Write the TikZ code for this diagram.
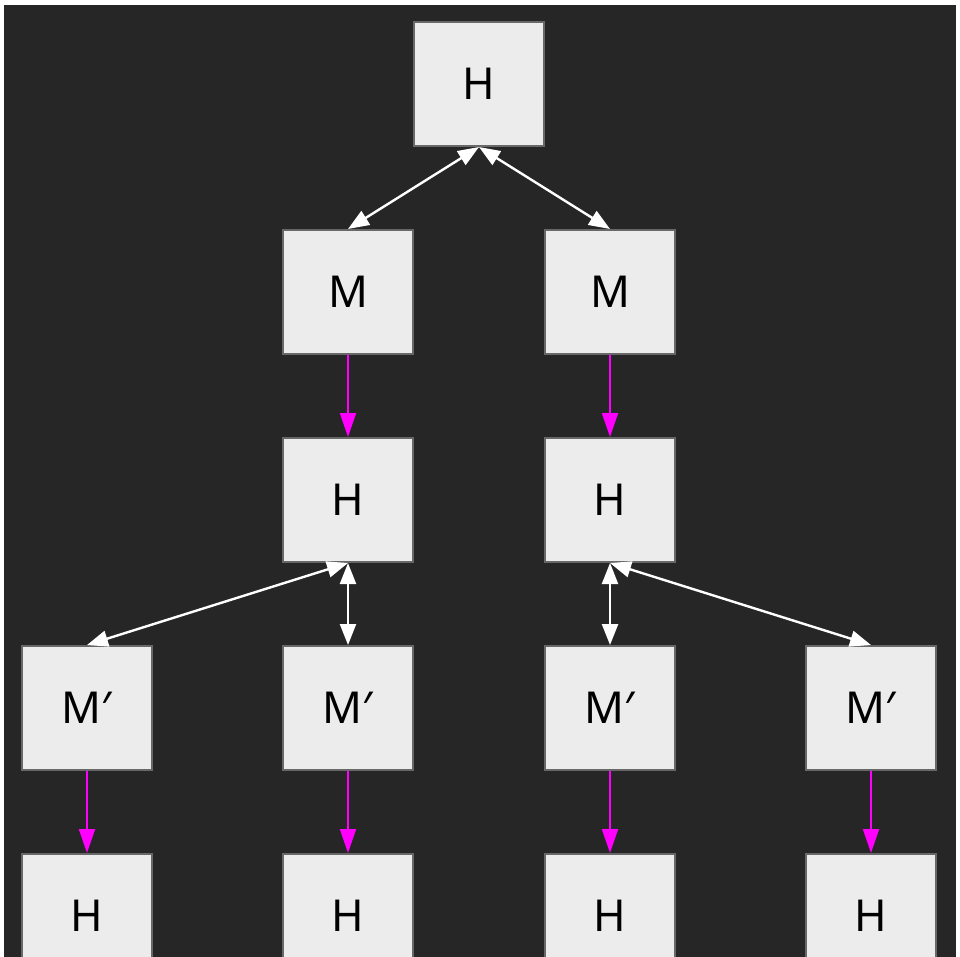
\documentclass[tikz,border=0pt]{standalone}
\usepackage{fontspec}
\setmainfont{Noto Sans}
\usetikzlibrary{arrows.meta,positioning}
\definecolor{bgDark}{HTML}{262626}
\definecolor{boxFill}{HTML}{ECECEC}
\definecolor{boxLine}{HTML}{686868}
\definecolor{linkMag}{HTML}{FF00FF}
\tikzset{
    treebox/.style={draw=boxLine, fill=boxFill, line width=2pt, minimum width=130pt,
        minimum height=124pt, inner sep=0pt, text=black, font=\fontsize{44}{50}\selectfont},
    swap/.style={white, line width=2.4pt, {Triangle[length=21pt,width=16pt]}-{Triangle[length=21pt,width=16pt]}},
    derive/.style={linkMag, line width=2pt, -{Triangle[length=24pt,width=16pt]}}
}
\begin{document}
\begin{tikzpicture}[x=1pt,y=-1pt]

    % frame
    \useasboundingbox (0,0) rectangle (960,957);
    \clip (0,0) rectangle (960,957);
    \fill[white] (0,0) rectangle (960,957);
    \fill[bgDark] (4,5) rectangle (956,970);

    % nodes
    \node[treebox] (h0) at (479,84) {H};
    \node[treebox] (m1) at (348,292) {M};
    \node[treebox] (m2) at (610,292) {M};
    \node[treebox] (h1) at (348,500) {H};
    \node[treebox] (h2) at (610,500) {H};
    \node[treebox] (p1) at (87,708) {M′};
    \node[treebox] (p2) at (348,708) {M′};
    \node[treebox] (p3) at (610,708) {M′};
    \node[treebox] (p4) at (871,708) {M′};
    \node[treebox] (g1) at (87,916) {H};
    \node[treebox] (g2) at (348,916) {H};
    \node[treebox] (g3) at (610,916) {H};
    \node[treebox] (g4) at (871,916) {H};

    % links
    \draw[swap] (h0.south) -- (m1.north);
    \draw[swap] (h0.south) -- (m2.north);
    \draw[derive] (m1.south) -- (h1.north);
    \draw[derive] (m2.south) -- (h2.north);
    \draw[swap] (h1.south) -- (p1.north);
    \draw[swap] (h1.south) -- (p2.north);
    \draw[swap] (h2.south) -- (p3.north);
    \draw[swap] (h2.south) -- (p4.north);
    \foreach \a/\b in {p1/g1,p2/g2,p3/g3,p4/g4}
        \draw[derive] (\a.south) -- (\b.north);

\end{tikzpicture}
\end{document}
